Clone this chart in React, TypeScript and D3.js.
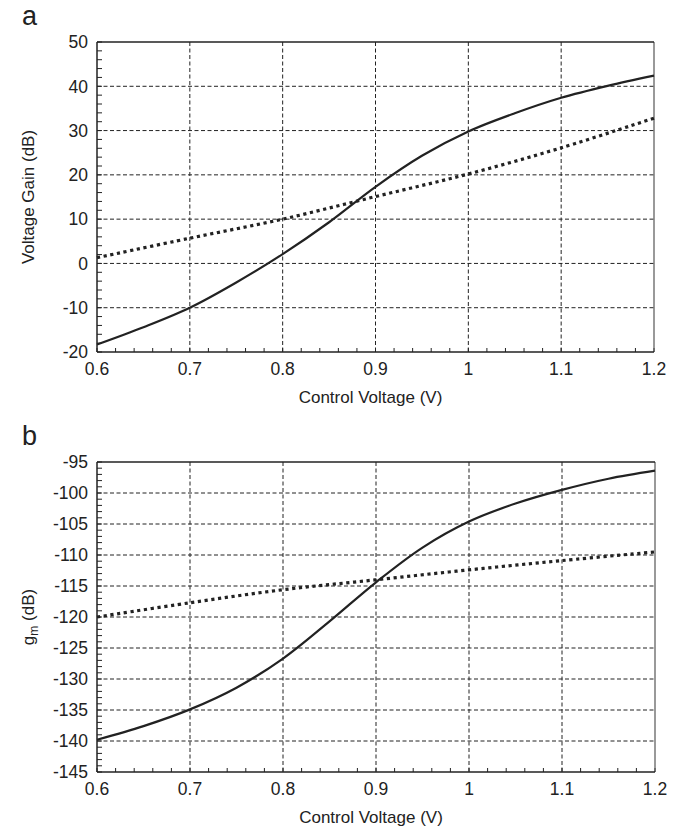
import React from "react";
import * as d3 from "d3";

// ---- Data ----
const voltsA = [0.6, 0.65, 0.7, 0.75, 0.8, 0.85, 0.9, 0.95, 1.0, 1.05, 1.1, 1.15, 1.2];
const gainSolid = [-18.3, -14.4, -10, -4.3, 2.1, 9.3, 17.3, 24.3, 29.8, 33.9, 37.4, 40.1, 42.4];
const voltsDot = [0.6, 0.7, 0.8, 0.9, 1.0, 1.1, 1.2];
const gainDotted = [1.3, 5.7, 10, 15.1, 20.2, 26.1, 32.8];

const gmSolid = [-139.8, -137.6, -134.9, -131.4, -126.7, -120.7, -114.4, -108.8, -104.6, -101.7, -99.5, -97.7, -96.4];
const gmDotted = [-120, -117.7, -115.6, -114.0, -112.4, -110.9, -109.5];

const xTicks = [0.6, 0.7, 0.8, 0.9, 1.0, 1.1, 1.2];
const xTickLabels = ["0.6", "0.7", "0.8", "0.9", "1", "1.1", "1.2"];
const yTicksA = [-20, -10, 0, 10, 20, 30, 40, 50];
const yTicksB = [-145, -140, -135, -130, -125, -120, -115, -110, -105, -100, -95];

const FONT = "'Liberation Sans', Arial, Helvetica, sans-serif";
const INK = "#222";

type PanelProps = {
  left: number; right: number; top: number; bottom: number;
  yDomain: [number, number];
  yTicks: number[];
  yMinor: number;
  solidX: number[]; solidY: number[];
  dotX: number[]; dotY: number[];
  letter: string; letterY: number;
  yLabel: React.ReactNode;
};

function Panel(p: PanelProps) {
  const x = d3.scaleLinear().domain([0.6, 1.2]).range([p.left, p.right]);
  const y = d3.scaleLinear().domain(p.yDomain).range([p.bottom, p.top]);
  const line = d3
    .line<[number, number]>()
    .x((d) => x(d[0]))
    .y((d) => y(d[1]))
    .curve(d3.curveCatmullRom.alpha(0.5));
  const solid = p.solidX.map((v, i) => [v, p.solidY[i]] as [number, number]);
  const dotted = p.dotX.map((v, i) => [v, p.dotY[i]] as [number, number]);

  const xMinor = d3.range(0.6, 1.2001, 0.02);
  const yMinorVals = d3.range(p.yDomain[0], p.yDomain[1] + 0.001, p.yMinor);

  return (
    <g fontFamily={FONT} fill={INK}>
      <text x={22} y={p.letterY} fontSize={27}>{p.letter}</text>
      {/* gridlines */}
      {xTicks.slice(1, -1).map((t) => (
        <line key={"gx" + t} x1={x(t)} x2={x(t)} y1={p.top} y2={p.bottom}
          stroke={INK} strokeWidth={1} strokeDasharray="4,2.5" />
      ))}
      {p.yTicks.slice(1, -1).map((t) => (
        <line key={"gy" + t} x1={p.left} x2={p.right} y1={y(t)} y2={y(t)}
          stroke={INK} strokeWidth={1} strokeDasharray="4,2.5" />
      ))}
      {/* minor ticks */}
      {xMinor.map((t, i) => (
        <line key={"mx" + i} x1={x(t)} x2={x(t)} y1={p.bottom} y2={p.bottom - 4}
          stroke={INK} strokeWidth={1} />
      ))}
      {yMinorVals.map((t, i) => (
        <line key={"my" + i} x1={p.left} x2={p.left + 5} y1={y(t)} y2={y(t)}
          stroke={INK} strokeWidth={1} />
      ))}
      {/* frame */}
      <line x1={p.right} x2={p.right} y1={p.top} y2={p.bottom} stroke="#555" strokeWidth={1.2} />
      <line x1={p.left} x2={p.right} y1={p.top} y2={p.top} stroke={INK} strokeWidth={1.5} />
      <line x1={p.left} x2={p.left} y1={p.top} y2={p.bottom} stroke={INK} strokeWidth={1.5} />
      <line x1={p.left} x2={p.right} y1={p.bottom} y2={p.bottom} stroke={INK} strokeWidth={1.5} />
      {/* data */}
      <path d={line(solid) || ""} fill="none" stroke={INK} strokeWidth={2.2} />
      <path d={line(dotted) || ""} fill="none" stroke={INK} strokeWidth={3.2} strokeDasharray="3.2,3.6" />
      {/* tick labels */}
      {xTicks.map((t, i) => (
        <text key={"tx" + t} x={x(t)} y={p.bottom + 23} fontSize={17.5} textAnchor="middle">
          {xTickLabels[i]}
        </text>
      ))}
      {p.yTicks.map((t) => (
        <text key={"ty" + t} x={p.left - 9} y={y(t)} dy="0.36em" fontSize={17.5} textAnchor="end">
          {t}
        </text>
      ))}
      <text x={(p.left + p.right) / 2 - 5} y={p.bottom + 51} fontSize={17} textAnchor="middle">
        Control Voltage (V)
      </text>
      <text transform={`translate(34,${(p.top + p.bottom) / 2}) rotate(-90)`} fontSize={17} textAnchor="middle">
        {p.yLabel}
      </text>
    </g>
  );
}

export default function App() {
  return (
    <svg width={687} height={831} style={{ position: "absolute", left: 0, top: 0, background: "#fff" }}>
      <rect width={687} height={831} fill="#fff" />
      <Panel left={97} right={654} top={42} bottom={352} yDomain={[-20, 50]} yTicks={yTicksA} yMinor={2}
        solidX={voltsA} solidY={gainSolid} dotX={voltsDot} dotY={gainDotted}
        letter="a" letterY={25} yLabel="Voltage Gain (dB)" />
      <Panel left={97} right={655} top={462} bottom={772} yDomain={[-145, -95]} yTicks={yTicksB} yMinor={1}
        solidX={voltsA} solidY={gmSolid} dotX={voltsDot} dotY={gmDotted}
        letter="b" letterY={445}
        yLabel={<>g<tspan fontSize={12} dy={4}>m</tspan><tspan dy={-4}> (dB)</tspan></>} />
    </svg>
  );
}
